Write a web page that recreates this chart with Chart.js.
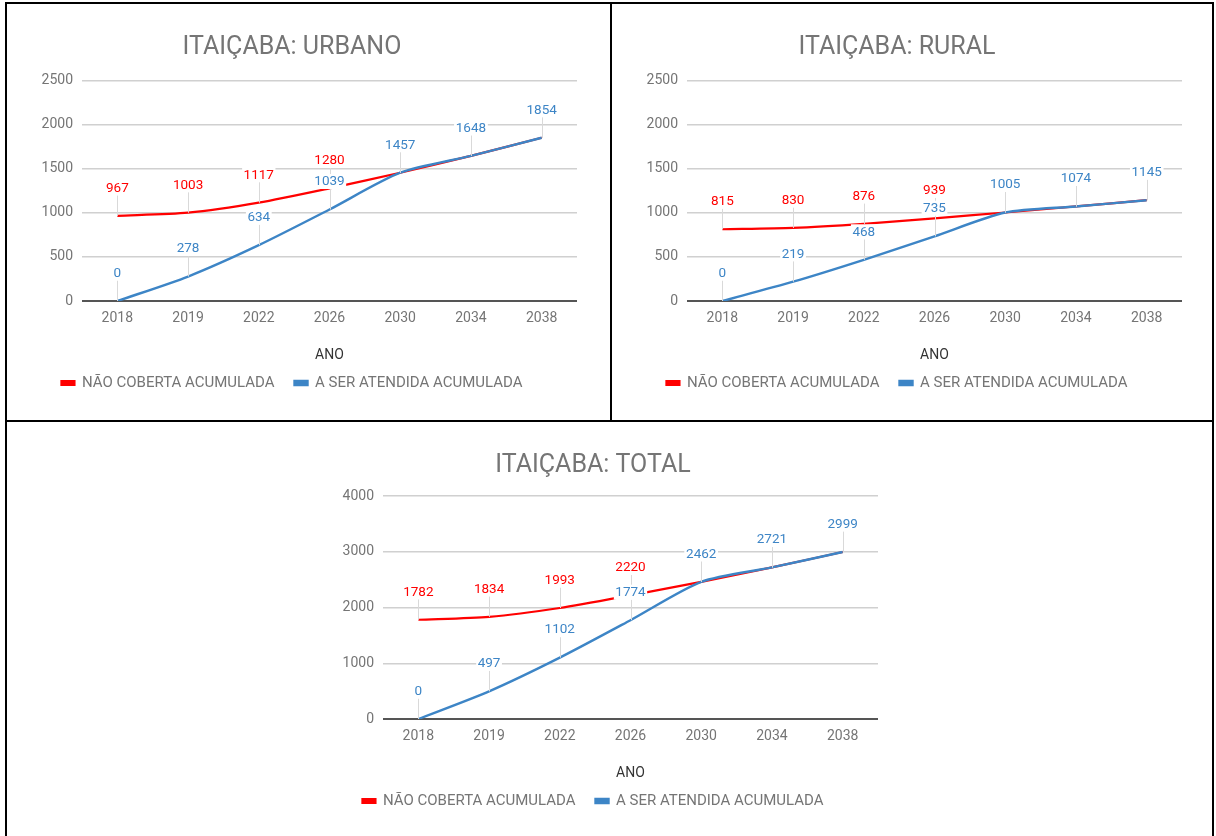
<!DOCTYPE html>
<html>
<head>
<meta charset="utf-8">
<title>Itaiçaba</title>
<script src="https://cdn.jsdelivr.net/npm/chart.js@4.4.1/dist/chart.umd.min.js"></script>
<style>
  body { margin: 0; background: #fff; width: 1216px; height: 836px; overflow: hidden; position: relative; }
  canvas { position: absolute; }
  .linha { position: absolute; background: #000; z-index: 2; }
</style>
</head>
<body>
<canvas id="graficoUrbano" width="603" height="416" style="left:7px;top:4px"></canvas>
<canvas id="graficoRural" width="603" height="416" style="left:612px;top:4px"></canvas>
<canvas id="graficoTotal" width="603" height="416" style="left:308px;top:422px"></canvas>

<!-- moldura da tabela -->
<div class="linha" style="left:5px;top:2px;width:1209px;height:2px"></div>
<div class="linha" style="left:5px;top:2px;width:2px;height:834px"></div>
<div class="linha" style="left:1212px;top:2px;width:2px;height:834px"></div>
<div class="linha" style="left:5px;top:420px;width:1209px;height:2px"></div>
<div class="linha" style="left:610px;top:2px;width:2px;height:420px"></div>

<script>
const anos = ["2018", "2019", "2022", "2026", "2030", "2034", "2038"];

const urbanoNaoCoberta = [967, 1003, 1117, 1280, 1457, 1648, 1854];
const urbanoAtendida   = [0, 278, 634, 1039, 1457, 1648, 1854];

const ruralNaoCoberta = [815, 830, 876, 939, 1005, 1074, 1145];
const ruralAtendida   = [0, 219, 468, 735, 1005, 1074, 1145];

const totalNaoCoberta = [1782, 1834, 1993, 2220, 2462, 2721, 2999];
const totalAtendida   = [0, 497, 1102, 1774, 2462, 2721, 2999];

const ticksUrbanoRural = [0, 500, 1000, 1500, 2000, 2500];
const ticksTotal = [0, 1000, 2000, 3000, 4000];

const VERMELHO = "#ff0000";
const AZUL = "#3d85c6";
const CINZA = "#757575";

Chart.defaults.font.family = "Roboto, 'Noto Sans', sans-serif";

// rótulos de valor acima de cada ponto, com fundo branco e linha-guia
const rotulos = {
  id: "rotulos",
  afterDatasetsDraw(chart) {
    const ctx = chart.ctx;
    ctx.save();
    ctx.font = "13.5px Roboto";
    ctx.textAlign = "center";
    ctx.textBaseline = "middle";
    chart.data.datasets.forEach((ds, i) => {
      const meta = chart.getDatasetMeta(i);
      meta.data.forEach((pt, j) => {
        const txt = String(ds.data[j]);
        const w = ctx.measureText(txt).width;
        const cy = pt.y - 27.5;
        const xl = Math.round(pt.x) + 0.5;
        ctx.strokeStyle = "#d9d9d9";
        ctx.lineWidth = 1;
        ctx.beginPath();
        ctx.moveTo(xl, cy + 7);
        ctx.lineTo(xl, pt.y);
        ctx.stroke();
        ctx.fillStyle = "#ffffff";
        ctx.fillRect(pt.x - w / 2 - 1.5, cy - 8, w + 3, 15);
        ctx.fillStyle = ds.borderColor;
        ctx.fillText(txt, pt.x, cy);
      });
    });
    ctx.restore();
  }
};

function desenharGrafico(id, titulo, naoCoberta, atendida, ticksY, respiroTitulo) {
  const ctx = document.getElementById(id).getContext("2d");
  const passo = ticksY[1] - ticksY[0];
  new Chart(ctx, {
    type: "line",
    data: {
      labels: anos,
      datasets: [
        {
          label: "NÃO COBERTA ACUMULADA",
          data: naoCoberta,
          borderColor: VERMELHO,
          backgroundColor: VERMELHO,
          borderWidth: 2.2,
          tension: 0.25,
          pointRadius: 0,
          order: 1
        },
        {
          label: "A SER ATENDIDA ACUMULADA",
          data: atendida,
          borderColor: AZUL,
          backgroundColor: AZUL,
          borderWidth: 2.4,
          tension: 0.25,
          pointRadius: 0,
          order: 0
        }
      ]
    },
    options: {
      responsive: false,
      animation: false,
      devicePixelRatio: 1,
      events: [],
      layout: { padding: { left: 0, right: 33, top: 0, bottom: 19.5 } },
      plugins: {
        tooltip: { enabled: false },
        title: {
          display: true,
          text: titulo,
          color: CINZA,
          font: { size: 25, weight: "normal" },
          padding: { top: 28.5, bottom: respiroTitulo }
        },
        legend: {
          position: "bottom",
          labels: {
            color: CINZA,
            font: { size: 15 },
            boxWidth: 13,
            boxHeight: 4,
            padding: 20,
            sort: (a, b) => a.datasetIndex - b.datasetIndex
          }
        }
      },
      scales: {
        x: {
          offset: true,
          grid: { display: false, drawTicks: false },
          border: { display: false },
          ticks: { color: CINZA, font: { size: 14 }, padding: 9 },
          title: {
            display: true,
            text: "ANO",
            color: "#333333",
            font: { size: 14 },
            padding: { top: 11.2, bottom: -8.3 }
          }
        },
        y: {
          min: ticksY[0],
          max: ticksY[ticksY.length - 1],
          afterFit: s => { s.width = 75; },
          ticks: {
            stepSize: passo,
            color: CINZA,
            font: { size: 14 },
            padding: 9,
            callback: v => String(v)
          },
          grid: {
            drawTicks: false,
            color: c => c.tick.value === 0 ? "#555555" : "#d0d0d0",
            lineWidth: c => c.tick.value === 0 ? 2 : 1.5
          },
          border: { display: false }
        }
      }
    },
    plugins: [rotulos]
  });
}

desenharGrafico("graficoUrbano", "ITAIÇABA: URBANO", urbanoNaoCoberta, urbanoAtendida, ticksUrbanoRural, 18.4);
desenharGrafico("graficoRural", "ITAIÇABA: RURAL", ruralNaoCoberta, ruralAtendida, ticksUrbanoRural, 18.4);
desenharGrafico("graficoTotal", "ITAIÇABA: TOTAL", totalNaoCoberta, totalAtendida, ticksTotal, 15.7);
</script>
</body>
</html>
